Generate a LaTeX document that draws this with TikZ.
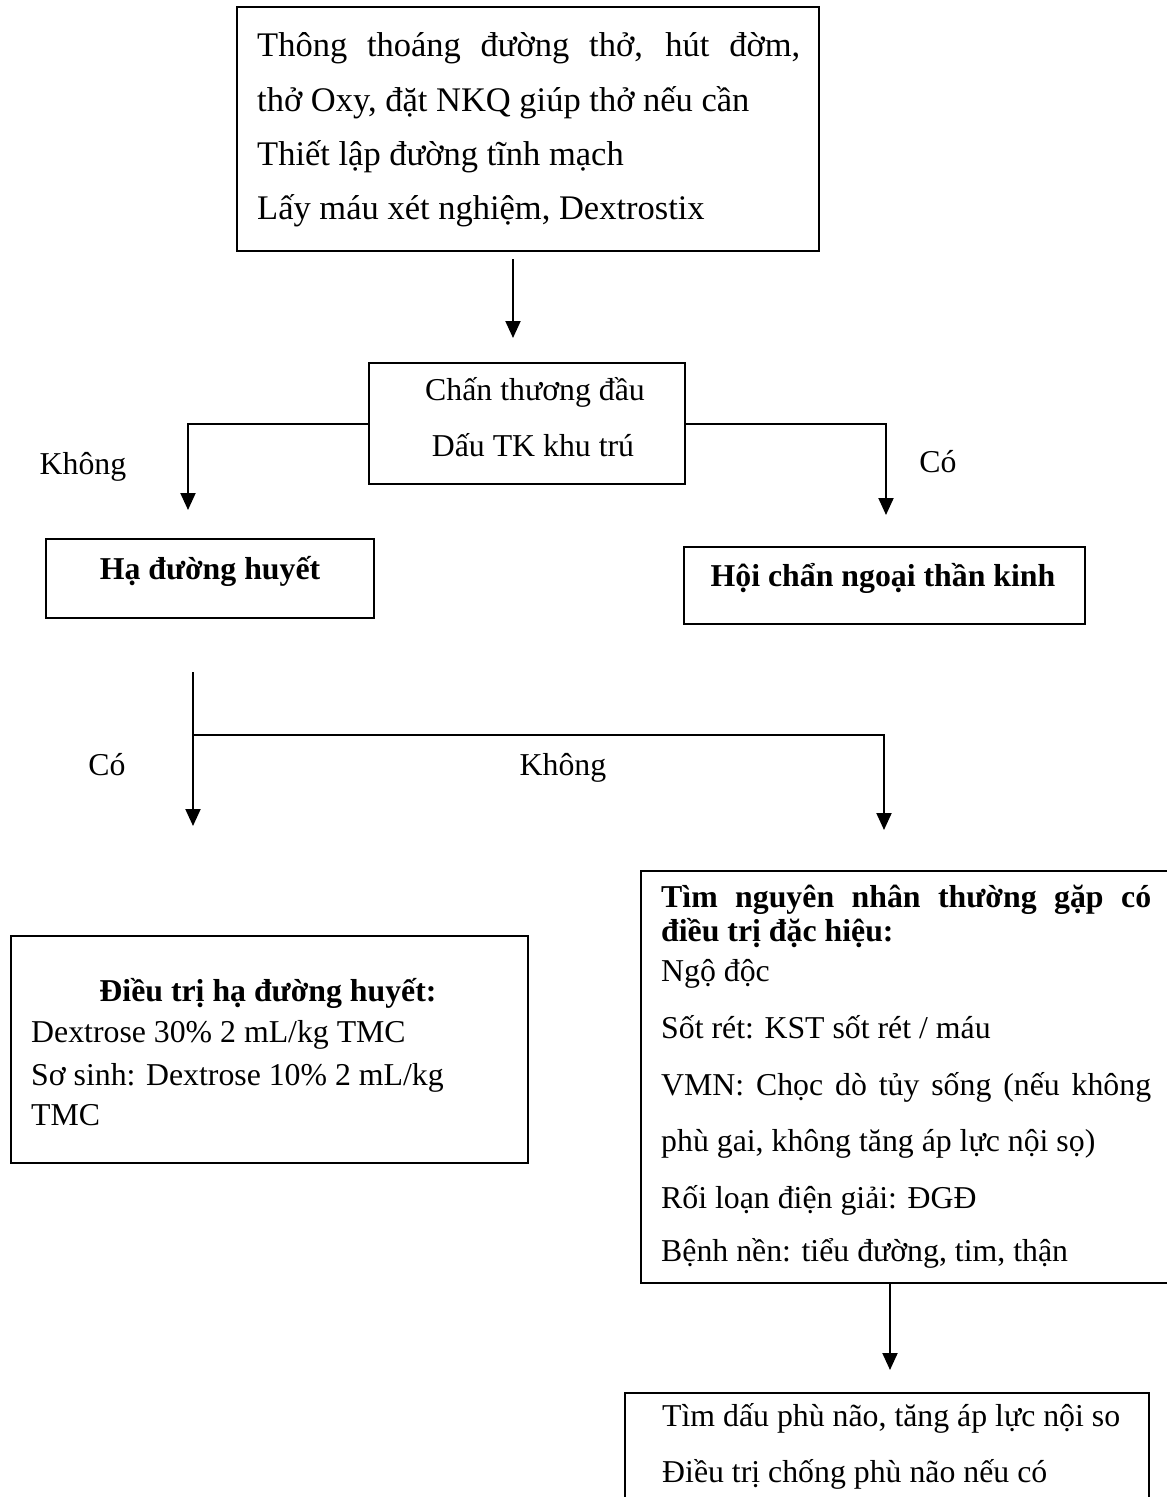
\documentclass[tikz,border=0pt]{standalone}
\usepackage{fontspec}
\setmainfont{Liberation Serif}
\usetikzlibrary{arrows.meta,calc}
\begin{document}
\begin{tikzpicture}[x=1pt,y=-1pt,
  box/.style={draw, line width=2pt, inner sep=0pt, anchor=north west},
  txt/.style={inner sep=0pt, font=\fontsize{31.8}{38}\selectfont, text height=22pt, text depth=7pt},
  bigtxt/.style={inner sep=0pt, font=\fontsize{34.5}{41}\selectfont, text height=24pt, text depth=8pt},
  btxt/.style={txt, font=\fontsize{31.8}{38}\selectfont\bfseries},
  conn/.style={line width=2pt},
  arr/.style={conn, -{Triangle[length=17pt,width=15pt]}}
]
\useasboundingbox (0,0) rectangle (1167,1497);
\fill[white] (0,0) rectangle (1167,1497);

% boxes
\node[box, minimum width=582pt, minimum height=244pt] (b1) at (236,6) {};
\node[box, minimum width=316pt, minimum height=121pt] (b2) at (368,362) {};
\node[box, minimum width=328pt, minimum height=79pt] (b3) at (45,538) {};
\node[box, minimum width=401pt, minimum height=77pt] (b4) at (683,546) {};
\node[box, minimum width=517pt, minimum height=227pt] (b5) at (10,935) {};
\node[box, minimum width=545pt, minimum height=412pt] (b6) at (640,870) {};
\node[box, minimum width=524pt, minimum height=200pt] (b7) at (624,1392) {};

% top box text
\node[bigtxt, anchor=west] (t1) at (257,48) {\makebox[543pt][s]{Thông thoáng đường thở, hút đờm,}};
\node[bigtxt, anchor=west] (t2) at (257,103) {thở Oxy, đặt NKQ giúp thở nếu cần};
\node[bigtxt, anchor=west] (t3) at (257,157) {Thiết lập đường tĩnh mạch};
\node[bigtxt, anchor=west] (t4) at (257,211) {Lấy máu xét nghiệm, Dextrostix};

% middle box text
\node[txt] (m1) at (535,393) {Chấn thương đầu};
\node[txt] (m2) at (533,449) {Dấu TK khu trú};

% branch labels
\node[txt] (l1) at (83,467) {Không};
\node[txt] (l2) at (938,465) {Có};
\node[txt] (l3) at (107,768) {Có};
\node[txt] (l4) at (563,768) {Không};

% single-line boxes
\node[btxt] (h1) at (210,572) {Hạ đường huyết};
\node[btxt] (h2) at (883,579) {Hội chẩn ngoại thần kinh};

% left treatment box
\node[btxt] (d0) at (268,994) {Điều trị hạ đường huyết:};
\node[txt, anchor=west] (d1) at (31,1035) {Dextrose 30\% 2 mL/kg TMC};
\node[txt, anchor=west] (d2) at (31,1078) {Sơ sinh: Dextrose 10\% 2 mL/kg};
\node[txt, anchor=west] (d3) at (31,1118) {TMC};

% right box
\node[btxt, anchor=west] (r1) at (661,900) {\makebox[490pt][s]{Tìm nguyên nhân thường gặp có}};
\node[btxt, anchor=west] (r2) at (661,934) {điều trị đặc hiệu:};
\node[txt, anchor=west] (r3) at (661,974) {Ngộ độc};
\node[txt, anchor=west] (r4) at (661,1031) {Sốt rét: KST sốt rét / máu};
\node[txt, anchor=west] (r5) at (661,1088) {\makebox[490pt][s]{VMN: Chọc dò tủy sống (nếu không}};
\node[txt, anchor=west] (r6) at (661,1144) {phù gai, không tăng áp lực nội sọ)};
\node[txt, anchor=west] (r7) at (661,1201) {Rối loạn điện giải: ĐGĐ};
\node[txt, anchor=west] (r8) at (661,1254) {Bệnh nền: tiểu đường, tim, thận};

% bottom box
\node[txt, anchor=west] (e1) at (662,1419) {Tìm dấu phù não, tăng áp lực nội so};
\node[txt, anchor=west] (e2) at (662,1475) {Điều trị chống phù não nếu có};

% connectors
\draw[arr] ($(b1.south)+(-15,7)$) -- ($(b2.north)+(-14,-24)$);
\draw[arr] (b2.west) -| ($(b3.north)+(-22,-28)$);
\draw[arr] (b2.east) -| ($(b4.north)+(1.5,-31)$);
\coordinate (j0) at ($(b3.south)+(-17,53)$);
\coordinate (j1) at ($(b3.south)+(-17,116)$);
\draw[arr] (j0) -- ($(b5.north)+(-76.5,-109)$);
\draw[arr] (j1) -| ($(b6.north west)+(244,-40)$);
\draw[arr] ($(b6.south west)+(250,0)$) -- ($(b7.north west)+(266,-22)$);
\end{tikzpicture}
\end{document}
